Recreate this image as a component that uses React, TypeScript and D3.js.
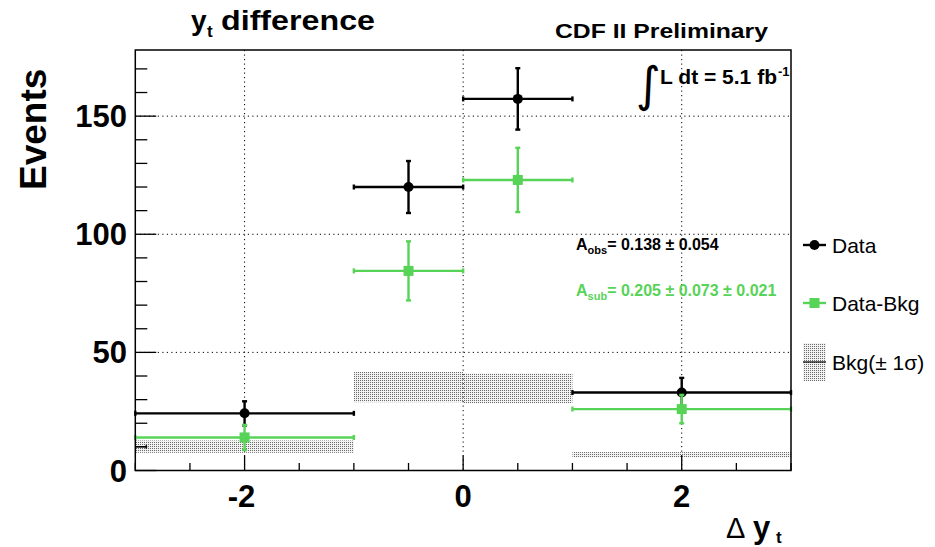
import React from "react";
import * as d3 from "d3";

const binLo = [-3, -1, 0, 1];
const binHi = [-1, 0, 1, 3];
const dataVals = [24.2, 120, 157.3, 33];
const dataErr = [5.1, 11, 13, 6.2];
const subVals = [14, 84.5, 123, 26];
const subErr = [5.3, 12.5, 13.6, 6];
const bkgVals = [10.1, 35.3, 34.8, 6.7];
const bkgErr = [2.6, 6.4, 6.3, 1.1];
const xMajor = [-2, 0, 2];
const yMajor = [0, 50, 100, 150];

const W = 935, H = 547;
const GREEN = "#57d357";
const FONT = "'Liberation Sans', Arial, Helvetica, sans-serif";

export default function App() {
  const x = d3.scaleLinear().domain([-3, 3]).range([135.3, 791]);
  const y = d3.scaleLinear().domain([0, 178]).range([470.5, 50]);
  const xMinor = d3.range(-3, 3.001, 0.5).filter((v) => !xMajor.includes(v));
  const yMinor = d3.range(0, 178, 10).filter((v) => v % 50 !== 0);
  const [x0, x1] = x.range();
  const [yb, yt] = y.range();

  const errBar = (i: number, vals: number[], errs: number[], color: string, key: string, square: boolean) => {
    const cx = x((binLo[i] + binHi[i]) / 2);
    const cy = y(vals[i]);
    const xl = x(binLo[i]);
    const xr = x(binHi[i]);
    const ytp = y(vals[i] + errs[i]);
    const ybt = y(vals[i] - errs[i]);
    const c = 2.5;
    return (
      <g key={key} stroke={color} strokeWidth={2.4} fill={color}>
        <line x1={xl} x2={xr} y1={cy} y2={cy} />
        <line x1={cx} x2={cx} y1={ytp} y2={ybt} />
        <line x1={xl} x2={xl} y1={cy - c} y2={cy + c} />
        <line x1={xr} x2={xr} y1={cy - c} y2={cy + c} />
        <line x1={cx - c} x2={cx + c} y1={ytp} y2={ytp} />
        <line x1={cx - c} x2={cx + c} y1={ybt} y2={ybt} />
        {square ? (
          <rect x={cx - 5} y={cy - 5} width={10} height={10} stroke="none" />
        ) : (
          <circle cx={cx} cy={cy} r={5} stroke="none" />
        )}
      </g>
    );
  };

  return (
    <svg width={W} height={H} style={{ position: "absolute", left: 0, top: 0, background: "#fff" }} fontFamily={FONT}>
      <defs>
        <pattern id="dots" width={2} height={2} patternUnits="userSpaceOnUse">
          <rect width={2} height={2} fill="#f2f2f2" />
          <rect width={1} height={1} fill="#6a6a6a" />
        </pattern>
      </defs>
      <rect width={W} height={H} fill="#fff" />

      {/* bkg bands */}
      {bkgVals.map((v, i) => (
        <rect key={"b" + i} x={x(binLo[i])} width={x(binHi[i]) - x(binLo[i])} y={y(v + bkgErr[i])} height={y(v - bkgErr[i]) - y(v + bkgErr[i])} fill="url(#dots)" />
      ))}
      <g stroke="#000" strokeWidth={1.2}>
        <line x1={x(-3)} x2={x(-2.9)} y1={y(bkgVals[0])} y2={y(bkgVals[0])} />
        <line x1={x(-2.9)} x2={x(-2.9)} y1={y(bkgVals[0]) - 2} y2={y(bkgVals[0]) + 2} />
      </g>

      {/* grid */}
      <g stroke="#000" strokeWidth={1} strokeDasharray="1.2,3.3">
        {xMajor.map((v) => (
          <line key={"gx" + v} x1={x(v)} x2={x(v)} y1={yt} y2={yb} />
        ))}
        {yMajor.filter((v) => v > 0).map((v) => (
          <line key={"gy" + v} x1={x0} x2={x1} y1={y(v)} y2={y(v)} />
        ))}
      </g>

      {/* ticks */}
      <g stroke="#000" strokeWidth={1.3}>
        {xMajor.map((v) => (
          <line key={"tx" + v} x1={x(v)} x2={x(v)} y1={yb} y2={yb - 15} />
        ))}
        {xMinor.map((v) => (
          <line key={"tmx" + v} x1={x(v)} x2={x(v)} y1={yb} y2={yb - 7.5} />
        ))}
        {yMajor.map((v) => (
          <line key={"ty" + v} x1={x0} x2={x0 + 21} y1={y(v)} y2={y(v)} />
        ))}
        {yMinor.map((v) => (
          <line key={"tmy" + v} x1={x0} x2={x0 + 12} y1={y(v)} y2={y(v)} />
        ))}
      </g>

      {/* data */}
      {dataVals.map((_, i) => errBar(i, dataVals, dataErr, "#000", "d" + i, false))}
      {subVals.map((_, i) => errBar(i, subVals, subErr, GREEN, "s" + i, true))}

      {/* frame */}
      <rect x={x0} y={yt} width={x1 - x0} height={yb - yt} fill="none" stroke="#000" strokeWidth={1.5} />

      {/* tick labels */}
      <g fontWeight="bold" fontSize={31} textAnchor="end">
        {yMajor.map((v) => (
          <text key={"ly" + v} x={127} y={y(v) + 11}>{v}</text>
        ))}
      </g>
      <g fontWeight="bold" fontSize={31} textAnchor="middle">
        {xMajor.map((v) => (
          <text key={"lx" + v} x={x(v) - (v < 0 ? 3 : 0)} y={507}>{v < 0 ? "-" + Math.abs(v) : v}</text>
        ))}
      </g>

      {/* axis titles */}
      <text transform="translate(46,190) rotate(-90)" fontWeight="bold" fontSize={37}>Events</text>
      <text x={726} y={538} fontSize={29}>Δ</text>
      <text x={753} y={538} fontSize={31} fontWeight="bold">y</text>
      <text x={776} y={543} fontSize={17} fontWeight="bold">t</text>

      {/* titles */}
      <text x={191} y={30} fontSize={28} fontWeight="bold">y</text>
      <text x={207} y={37} fontSize={17} fontWeight="bold">t</text>
      <text x={221} y={30} fontSize={28} fontWeight="bold" textLength={154} lengthAdjust="spacingAndGlyphs">difference</text>
      <text x={555} y={38} fontSize={21} fontWeight="bold" textLength={213} lengthAdjust="spacingAndGlyphs">CDF II Preliminary</text>

      {/* luminosity */}
      <text x={636} y={101} fontSize={48} fontFamily="'DejaVu Sans', sans-serif">∫</text>
      <text x={660} y={84} fontSize={21} fontWeight="bold" textLength={117} lengthAdjust="spacingAndGlyphs">L dt = 5.1 fb</text>
      <text x={778} y={76} fontSize={13} fontWeight="bold">-1</text>

      {/* asymmetries */}
      <text x={576} y={250} fontSize={16} fontWeight="bold" fill="#000">
        A<tspan fontSize={11} dy={4}>obs</tspan><tspan dy={-4}>= 0.138 ± 0.054</tspan>
      </text>
      <text x={576} y={296} fontSize={16} fontWeight="bold" fill={GREEN}>
        A<tspan fontSize={11} dy={4}>sub</tspan><tspan dy={-4}>= 0.205 ± 0.073 ± 0.021</tspan>
      </text>

      {/* legend */}
      <g>
        <line x1={803} x2={826} y1={245} y2={245} stroke="#000" strokeWidth={2.4} />
        <circle cx={814.5} cy={245} r={5} fill="#000" />
        <text x={832} y={253} fontSize={21}>Data</text>
        <line x1={803} x2={826} y1={303} y2={303} stroke={GREEN} strokeWidth={2.4} />
        <rect x={809.5} y={298} width={10} height={10} fill={GREEN} />
        <text x={832} y={311} fontSize={21}>Data-Bkg</text>
        <rect x={803} y={343} width={23} height={38} fill="url(#dots)" />
        <line x1={803} x2={826} y1={362} y2={362} stroke="#000" strokeWidth={1.2} />
        <text x={832} y={370} fontSize={21}>Bkg(± 1σ)</text>
      </g>
    </svg>
  );
}
